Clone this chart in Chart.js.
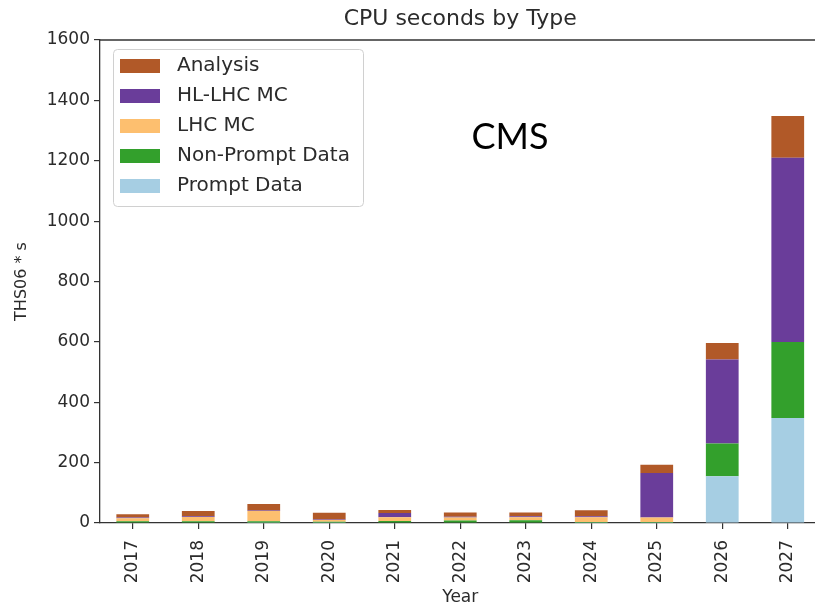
<!DOCTYPE html>
<html>
<head>
<meta charset="utf-8">
<script src="https://cdn.jsdelivr.net/npm/chart.js@4.4.1/dist/chart.umd.min.js"></script>
<style>
  html, body { margin: 0; padding: 0; background: #fff; overflow: hidden; }
  #wrap { width: 830px; height: 605px; }
</style>
</head>
<body>
<div id="wrap"><canvas id="cpuChart" width="830" height="605"></canvas></div>
<script>
const years = ['2017', '2018', '2019', '2020', '2021', '2022', '2023', '2024', '2025', '2026', '2027'];

// THS06 * s per category, stacked bottom to top
const promptData    = [2, 2, 1, 1, 2, 2, 2, 1, 1, 155, 348];
const nonPromptData = [4, 4, 5, 3, 5, 6, 7, 2, 2, 108, 252];
const lhcMC         = [10, 14, 34, 6, 12, 10, 10, 16, 15, 0, 0];
const hlLhcMC       = [2, 2, 1, 2, 14, 3, 3, 3, 148, 279, 610];
const analysis      = [11, 18, 22, 22, 10, 14, 13, 20, 27, 54, 138];

const yTicks = [0, 200, 400, 600, 800, 1000, 1200, 1400, 1600];

const FONT = "'DejaVu Sans', sans-serif";
const INK = '#2b2b2b';

// spines on top/right, title, CMS tag and the boxed legend
const decorations = {
  id: 'decorations',
  afterDatasetsDraw(chart) {
    const ctx = chart.ctx;
    const a = chart.chartArea;
    ctx.save();
    ctx.strokeStyle = '#333';
    ctx.lineWidth = 1.3;
    ctx.beginPath();
    ctx.moveTo(a.left, a.top);
    ctx.lineTo(a.right, a.top);
    ctx.lineTo(a.right, a.bottom);
    ctx.stroke();

    ctx.fillStyle = INK;
    ctx.font = '22px ' + FONT;
    ctx.textAlign = 'center';
    ctx.textBaseline = 'middle';
    ctx.fillText('CPU seconds by Type', (a.left + a.right) / 2, 19);

    ctx.fillStyle = '#000';
    ctx.font = '36px Lato, sans-serif';
    ctx.fillText('CMS', 510, 137);

    // legend, last dataset first
    const x0 = 113, y0 = 49, w = 250, h = 157;
    ctx.fillStyle = 'rgba(255,255,255,0.85)';
    ctx.strokeStyle = '#d0d0d0';
    ctx.lineWidth = 1;
    ctx.beginPath();
    ctx.roundRect(x0 + 0.5, y0 + 0.5, w, h, 4);
    ctx.fill();
    ctx.stroke();
    const sets = chart.data.datasets.slice().reverse();
    ctx.font = '20px ' + FONT;
    ctx.textAlign = 'left';
    sets.forEach((ds, i) => {
      const cy = 66 + i * 30;
      ctx.fillStyle = ds.backgroundColor;
      ctx.fillRect(120, cy - 7, 40, 14);
      ctx.fillStyle = INK;
      ctx.fillText(ds.label, 177, cy);
    });
    ctx.restore();
  }
};

new Chart(document.getElementById('cpuChart'), {
  type: 'bar',
  data: {
    labels: years,
    datasets: [
      { label: 'Prompt Data', data: promptData, backgroundColor: '#a6cee3' },
      { label: 'Non-Prompt Data', data: nonPromptData, backgroundColor: '#33a02c' },
      { label: 'LHC MC', data: lhcMC, backgroundColor: '#fdbf6f' },
      { label: 'HL-LHC MC', data: hlLhcMC, backgroundColor: '#6a3d9a' },
      { label: 'Analysis', data: analysis, backgroundColor: '#b15928' }
    ]
  },
  options: {
    responsive: false,
    animation: false,
    events: [],
    layout: { padding: { top: 40, right: 9.5, bottom: -3, left: 0 } },
    datasets: { bar: { categoryPercentage: 1, barPercentage: 0.5 } },
    plugins: {
      legend: { display: false },
      title: { display: false },
      tooltip: { enabled: false }
    },
    scales: {
      x: {
        stacked: true,
        offset: true,
        afterFit: s => { s.height = 85; },
        border: { display: true, color: '#333', width: 1.3 },
        grid: { offset: false, drawOnChartArea: false, drawTicks: true, tickLength: 6, color: '#333', lineWidth: 1.2 },
        ticks: {
          minRotation: 90, maxRotation: 90, padding: 11,
          color: INK, font: { family: FONT, size: 17 }
        },
        title: {
          display: true, text: 'Year', color: INK,
          font: { family: FONT, size: 17 }, padding: 0
        }
      },
      y: {
        stacked: true,
        min: 0,
        max: 1600,
        afterFit: s => { s.width = 100; },
        afterBuildTicks: s => { s.ticks = yTicks.map(v => ({ value: v })); },
        border: { display: true, color: '#333', width: 1.3 },
        grid: { drawOnChartArea: false, drawTicks: true, tickLength: 6, color: '#333', lineWidth: 1.2 },
        ticks: {
          padding: 4, color: INK, font: { family: FONT, size: 17 },
          callback: v => String(v)
        },
        title: {
          display: true, text: 'THS06 * s', color: INK,
          font: { family: FONT, size: 16 }, padding: { top: 12, bottom: 0 }
        }
      }
    }
  },
  plugins: [decorations]
});
</script>
</body>
</html>
